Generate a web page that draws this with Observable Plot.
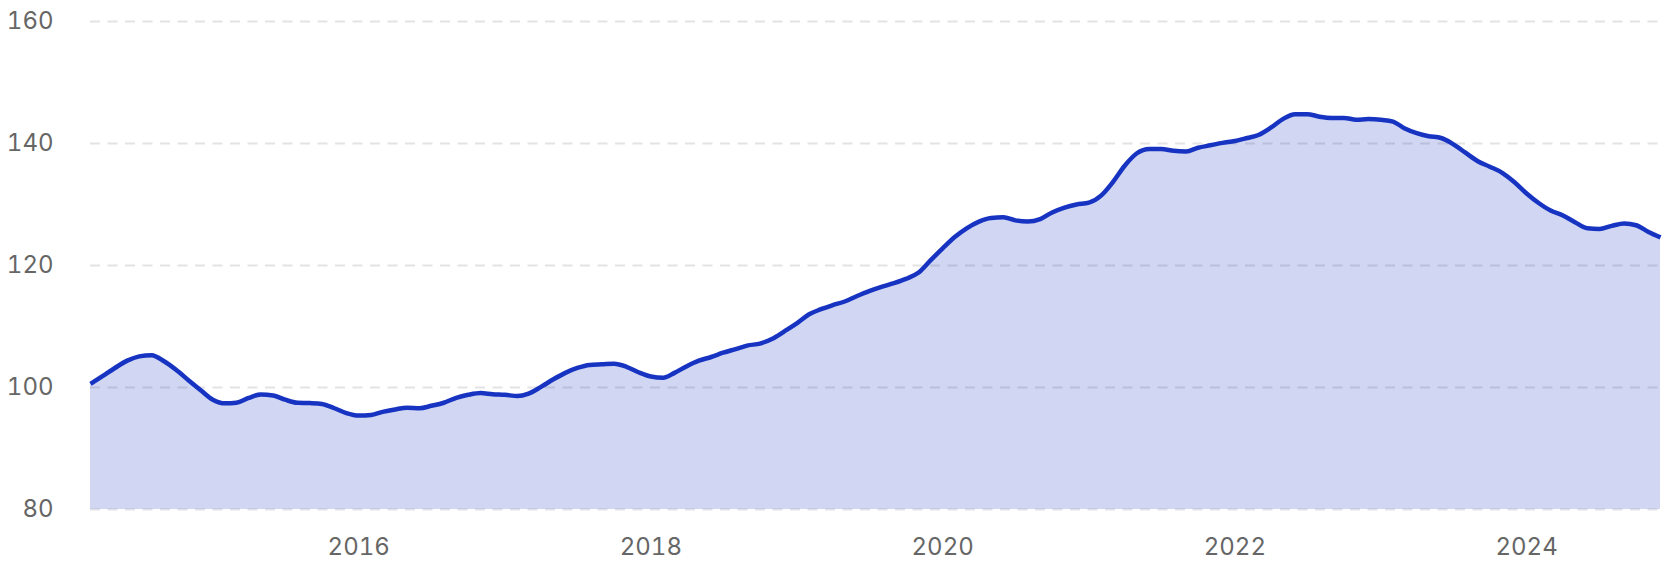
<!DOCTYPE html>
<html>
<head>
<meta charset="utf-8">
<script src="https://cdn.jsdelivr.net/npm/d3@7"></script>
<script src="https://cdn.jsdelivr.net/npm/@observablehq/plot@0.6"></script>
<style>
  html, body { margin: 0; padding: 0; background: #ffffff; }
  svg { display: block; }
</style>
</head>
<body>
<div id="chart"></div>
<script>
// Monthly index values, first month March 2014, last month December 2024
const firstMonth = "2014-03";
const values2014 = [100.6, 101.9, 103.2, 104.4, 105.1, 105.3, 104.3, 102.9, 101.2, 99.6];
const values2015 = [98.0, 97.4, 97.5, 98.3, 98.85, 98.7, 98.0, 97.5, 97.45, 97.3, 96.6, 95.8];
const values2016 = [95.4, 95.5, 96.0, 96.4, 96.7, 96.6, 97.0, 97.5, 98.3, 98.8, 99.1, 98.9];
const values2017 = [98.8, 98.6, 99.0, 100.1, 101.3, 102.4, 103.2, 103.7, 103.8, 103.9, 103.4, 102.5];
const values2018 = [101.8, 101.6, 102.4, 103.5, 104.4, 105.0, 105.7, 106.3, 106.9, 107.2, 108.0, 109.2];
const values2019 = [110.5, 112.0, 112.8, 113.5, 114.1, 115.0, 115.8, 116.5, 117.1, 117.8, 118.8, 120.8];
const values2020 = [122.8, 124.7, 126.1, 127.2, 127.8, 127.9, 127.4, 127.2, 127.6, 128.7, 129.5, 130.0];
const values2021 = [130.3, 131.5, 133.6, 136.4, 138.4, 139.1, 139.1, 138.8, 138.7, 139.3, 139.7, 140.1];
const values2022 = [140.4, 140.9, 141.4, 142.6, 144.0, 144.8, 144.8, 144.4, 144.2, 144.2, 143.9, 144.0];
const values2023 = [143.9, 143.6, 142.5, 141.7, 141.2, 140.9, 139.9, 138.5, 137.1, 136.2, 135.2, 133.7];
const values2024 = [131.8, 130.2, 129.0, 128.2, 127.1, 126.1, 126.0, 126.5, 126.9, 126.6, 125.5, 124.6];

const xTickYears = [2016, 2018, 2020, 2022, 2024];
const yTicks = [80, 100, 120, 140, 160];

const values = [].concat(values2014, values2015, values2016, values2017, values2018,
  values2019, values2020, values2021, values2022, values2023, values2024);
const [fy, fm] = firstMonth.split("-").map(Number);
const data = values.map((v, i) => ({ date: new Date(Date.UTC(fy, fm - 1 + i, 1)), value: v }));
const xTicks = xTickYears.map(y => new Date(Date.UTC(y, 0, 1)));

const chart = Plot.plot({
  width: 1667,
  height: 566,
  marginLeft: 90,
  marginRight: 7,
  marginTop: 21,
  marginBottom: 57,
  style: { fontFamily: "Inter, 'DejaVu Sans', sans-serif", fontSize: "24px", color: "#666666", background: "#ffffff" },
  x: { type: "utc", label: null },
  y: { domain: [80, 160], label: null },
  marks: [
    Plot.gridY(yTicks, { stroke: "#e3e3e3", strokeOpacity: 1, strokeWidth: 2, strokeDasharray: "10,7.5" }),
    Plot.areaY(data, { x: "date", y1: 80, y2: "value", fill: "#1a35c4", fillOpacity: 0.2, curve: "monotone-x" }),
    Plot.lineY(data, { x: "date", y: "value", stroke: "#1733c2", strokeWidth: 4.5, curve: "monotone-x", strokeLinejoin: "round", strokeLinecap: "butt" }),
    Plot.axisY(yTicks, { tickSize: 0, tickPadding: 37, fontSize: 24, label: null }),
    Plot.axisX(xTicks, { tickSize: 0, tickPadding: 28, fontSize: 24, tickFormat: "%Y", label: null })
  ]
});
document.getElementById("chart").appendChild(chart);
</script>
</body>
</html>
